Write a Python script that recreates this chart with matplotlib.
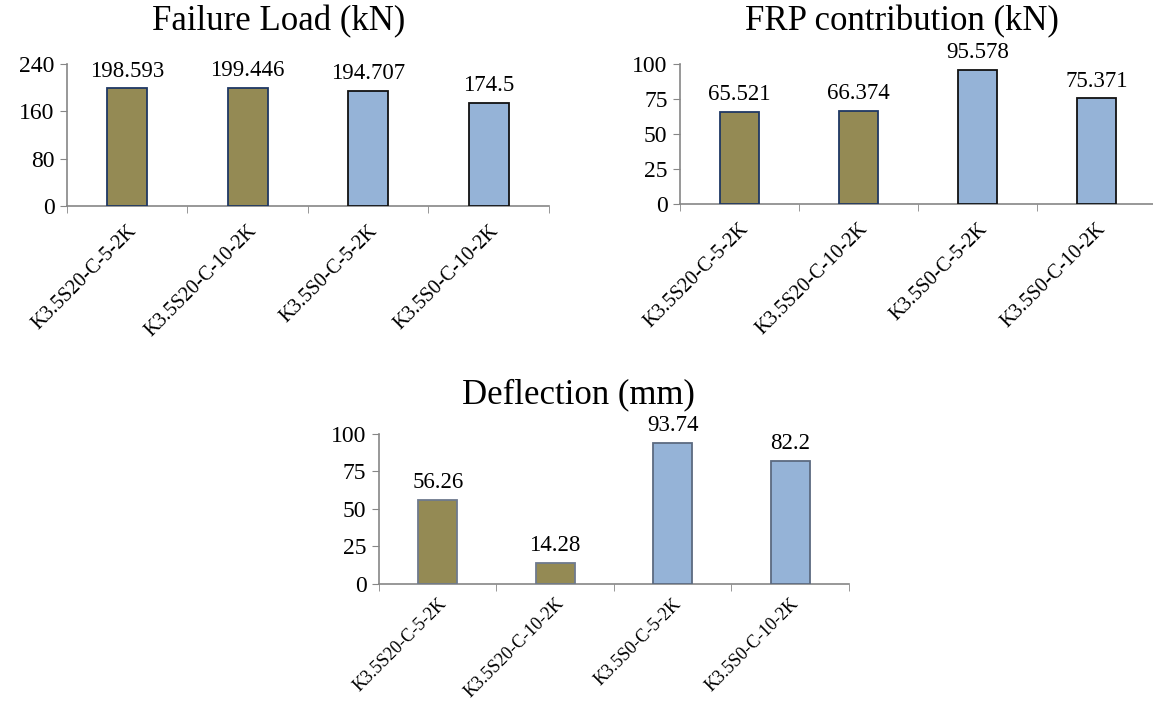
import numpy as np
import matplotlib
matplotlib.use('Agg')
import matplotlib.pyplot as plt
import matplotlib.ticker as ticker

plt.rcParams['font.family'] = ['Liberation Serif', 'DejaVu Serif']

specimens = ['K3.5S20-C-5-2K', 'K3.5S20-C-10-2K', 'K3.5S0-C-5-2K', 'K3.5S0-C-10-2K']
failure_load = [198.593, 199.446, 194.707, 174.5]
failure_lbl = ['198.593', '199.446', '194.707', '174.5']
frp_contrib = [65.521, 66.374, 95.578, 75.371]
frp_lbl = ['65.521', '66.374', '95.578', '75.371']
deflection = [56.26, 14.28, 93.74, 82.2]
defl_lbl = ['56.26', '14.28', '93.74', '82.2']

BROWN = '#948A54'
BLUE = '#95B3D7'
GRID = '#868686'


def panel(fig, rect, vals, lbls, ymax, ystep, edges, lblsize, lblpad):
  ax = fig.add_axes(rect)
  x = np.arange(len(vals))
  cols = [BROWN, BROWN, BLUE, BLUE]
  ax.bar(x, vals, width=0.33, color=cols, edgecolor=edges, linewidth=1.3, zorder=3)
  for xi, v, s in zip(x, vals, lbls):
    ax.annotate(s, (xi, v), xytext=(0, 5), textcoords='offset points',
                ha='center', va='bottom', fontsize=16.5, annotation_clip=False)
  ax.set_xlim(-0.5, len(vals) - 0.5)
  ax.set_ylim(0, ymax)
  ax.yaxis.set_major_locator(ticker.MultipleLocator(ystep))
  ax.set_xticks(x)
  ax.set_xticklabels(specimens, rotation=45, ha='right', rotation_mode='anchor',
                     fontsize=lblsize)
  ax.set_xticks(np.arange(-0.5, len(vals)), minor=True)
  ax.tick_params(axis='x', which='major', length=0, pad=lblpad)
  ax.tick_params(axis='x', which='minor', length=5, color=GRID, direction='out')
  ax.tick_params(axis='y', length=5, color=GRID, labelsize=17, pad=4)
  for s in ['top', 'right']:
    ax.spines[s].set_visible(False)
  for s in ['left', 'bottom']:
    ax.spines[s].set_color(GRID)
    ax.spines[s].set_linewidth(1.2)
  return ax


fig = plt.figure(figsize=(11.53, 7.02), dpi=100)

panel(fig, [0.0581, 0.7066, 0.418, 0.2023], failure_load, failure_lbl, 240, 80,
      ['#1F3864', '#1F3864', '#111111', '#111111'], 14.5, 11)
panel(fig, [0.5898, 0.7094, 0.4128, 0.1994], frp_contrib, frp_lbl, 100, 25,
      ['#1F3864', '#1F3864', '#111111', '#111111'], 14.5, 11)
panel(fig, [0.3287, 0.1681, 0.4076, 0.2137], deflection, defl_lbl, 100, 25,
      ['#6E7A8E', '#6E7A8E', '#5C6A80', '#5C6A80'], 13, 8)

fig.text(279 / 1153, 1 - 22 / 702, 'Failure Load (kN)', ha='center', va='center', fontsize=25)
fig.text(902 / 1153, 1 - 22 / 702, 'FRP contribution (kN)', ha='center', va='center', fontsize=25)
fig.text(578 / 1153, 1 - 395 / 702, 'Deflection (mm)', ha='center', va='center', fontsize=25)

fig.savefig('out.png', dpi=100, facecolor='white')
